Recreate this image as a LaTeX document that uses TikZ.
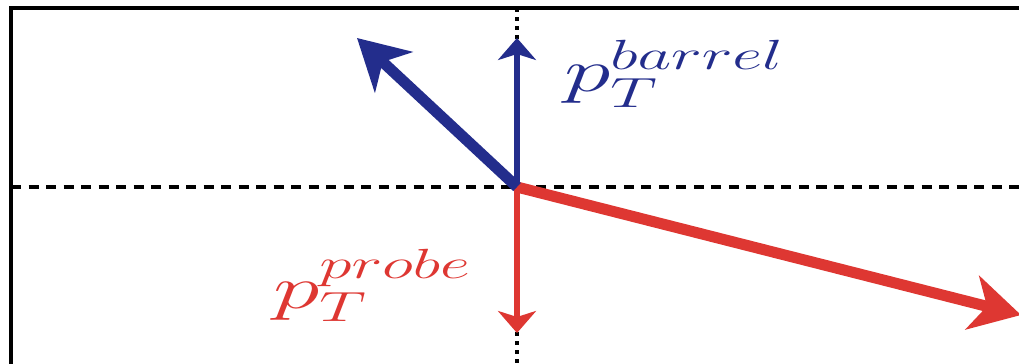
\documentclass[tikz,border=0pt]{standalone}
\usetikzlibrary{arrows.meta}
\definecolor{barrelblue}{RGB}{35,45,140}
\definecolor{probered}{RGB}{222,55,50}
\tikzset{
  axisline/.style={black, line width=0.035cm},
  thinvec/.style={line width=0.055cm, -{Stealth[length=0.22cm, width=0.38cm, inset=0.06cm]}},
  thickvec/.style={line width=0.11cm, -{Stealth[length=0.5cm, width=0.55cm, inset=0.15cm]}},
  veclabel/.style={anchor=base west, inner sep=0pt, xscale=1.55, font=\LARGE}
}

\begin{document}
\begin{tikzpicture}[x=0.01cm, y=-0.01cm]
  %%%%% START %%%%%
  \clip (0,0) rectangle (1019,364);
  \fill[white] (0,0) rectangle (1019,364);

  \draw[axisline] (11,8) rectangle (1040,390);

  \coordinate (o) at (517,187);
  \coordinate (xleft) at (11,187);
  \coordinate (xright) at (1019,187);
  \coordinate (ytop) at (517,8);
  \coordinate (ybot) at (517,364);

  \draw[axisline, dash pattern=on 0.1cm off 0.075cm] (xleft) -- (xright);
  \draw[axisline, dash pattern=on 0.04cm off 0.05cm] (ytop) -- (ybot);

  \coordinate (barreltip) at (517,38);
  \coordinate (probetip) at (517,333);
  \coordinate (jettip) at (357,38);
  \coordinate (recoiltip) at (1021,315);

  \draw[thinvec, barrelblue] (o) -- (barreltip);
  \draw[thinvec, probered] (o) -- (probetip);
  \draw[thickvec, probered] (o) -- (recoiltip);
  \draw[thickvec, barrelblue] (o) -- (jettip);

  \node[veclabel, text=barrelblue] (lbarrel) at (563,92) {$p_T^{barrel}$};
  \node[veclabel, text=probered] (lprobe) at (272,308) {$p_T^{probe}$};
  %%%%% END %%%%%
\end{tikzpicture}
\end{document}
